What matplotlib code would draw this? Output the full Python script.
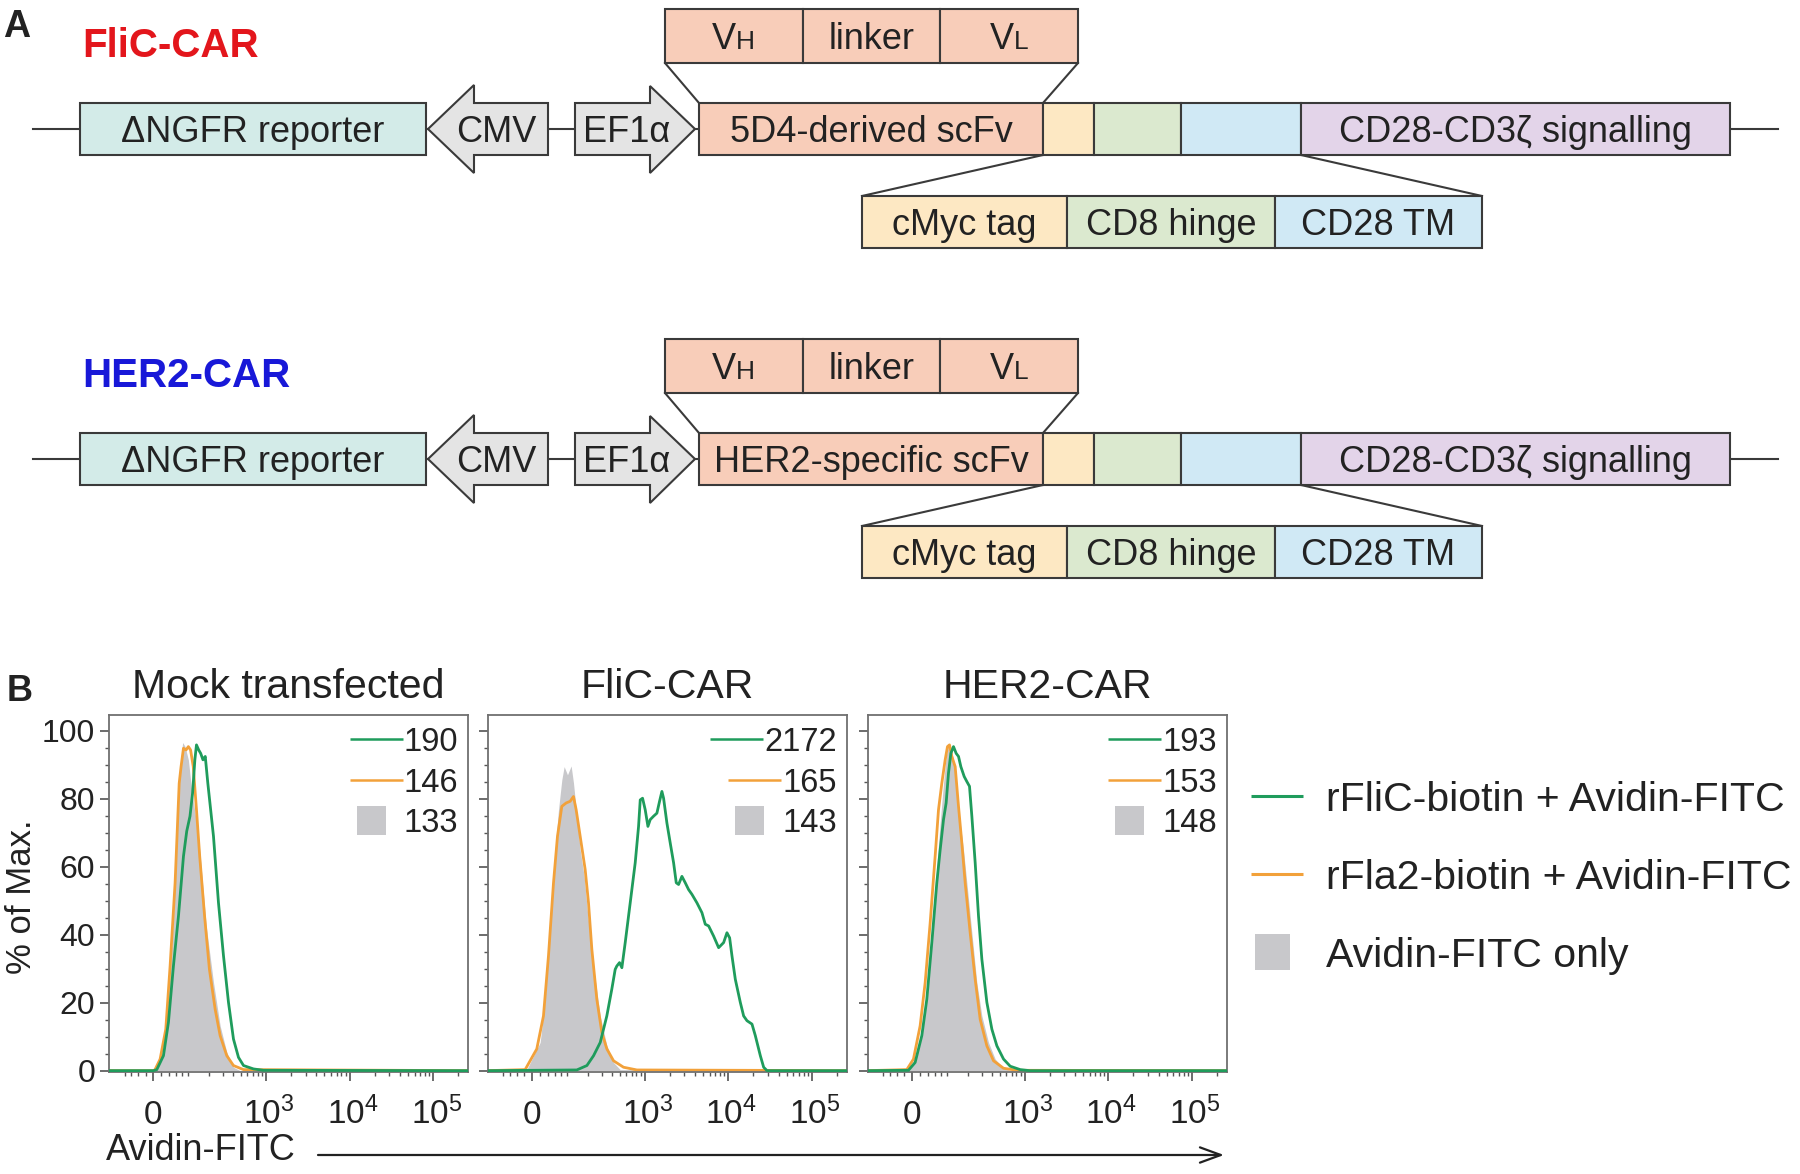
import numpy as np
import matplotlib
matplotlib.use('Agg')
import matplotlib.pyplot as plt
from matplotlib.patches import Rectangle, Polygon
from matplotlib.ticker import FixedLocator, NullFormatter

plt.rcParams['font.family'] = ['Liberation Sans', 'DejaVu Sans']
plt.rcParams['mathtext.fontset'] = 'custom'
plt.rcParams['mathtext.rm'] = 'Liberation Sans'
plt.rcParams['mathtext.it'] = 'Liberation Sans:italic'
plt.rcParams['mathtext.bf'] = 'Liberation Sans:bold'

# ------------------------------------------------------------------ data
panel_titles = ['Mock transfected', 'FliC-CAR', 'HER2-CAR']
legend_labels = ['rFliC-biotin + Avidin-FITC', 'rFla2-biotin + Avidin-FITC', 'Avidin-FITC only']
mfi_green = ['190', '2172', '193']
mfi_orange = ['146', '165', '153']
mfi_gray = ['133', '143', '148']
x_tick_values = [0, 1e3, 1e4, 1e5]
x_tick_labels = ['0', r'$10^3$', r'$10^4$', r'$10^5$']
x_minor_values = [-80, -60, -40, -20, 20, 40, 60, 80,
                  100, 200, 300, 400, 500, 600, 700, 800, 900,
                  2000, 3000, 4000, 5000, 6000, 7000, 8000, 9000,
                  20000, 30000, 40000, 50000, 60000, 70000, 80000, 90000, 200000]
y_tick_values = [0, 20, 40, 60, 80, 100]
x_limits = (-141, 2.6e5)
y_limits = (-0.4, 104.7)

# Mock transfected
mock_gray_x = [-141, 0, 8.4, 25.4, 38.6, 52.6, 62.5, 72.9, 81.3, 89.6, 101.5, 114.2, 134.7, 149.7, 183.6, 228.5, 277.7, 336, 406, 490, 260000]
mock_gray_y = [0, 0, 0.5, 6.4, 21, 45.5, 70, 89.5, 96.6, 95.4, 91.5, 82.7, 72.9, 65, 42.6, 26, 13.2, 5.4, 1, 0, 0]
mock_orange_x = [-141, 0, 4, 16.8, 31.5, 43.2, 57.5, 70, 76, 84, 93, 101.5, 110, 120.8, 134.7, 149.7, 174.6, 202.5, 240, 277.7, 336, 406, 538, 260000]
mock_orange_y = [0, 0, 0.3, 3.4, 12.2, 30.8, 55.3, 84.6, 89.5, 94.9, 94.4, 95.4, 94.4, 89.5, 76.8, 63.1, 45.5, 29.8, 18.1, 10.3, 4.4, 1.5, 0.3, 0]
mock_green_x = [-141, 0, 8.4, 25.4, 38.6, 52.6, 67.7, 84, 95.5, 107.7, 118, 127.6, 134.7, 145, 154.5, 166, 178.3, 192.9, 228.5, 264.6, 305.8, 352.6, 406, 467.6, 538, 711, 937, 260000]
mock_green_y = [0, 0, 0.3, 4.4, 14.2, 30.8, 45.5, 63.1, 70.5, 74.9, 81.7, 91.5, 95.9, 94.4, 93.4, 91.5, 92.5, 84.6, 69, 49.4, 33.8, 20.1, 9.3, 3.9, 1.5, 0.5, 0.1, 0]

# FliC-CAR
flic_gray_x = [-141, -13.4, 20.2, 33.3, 47, 61.5, 71.9, 82.8, 90.9, 103.1, 117.5, 127.3, 142.3, 158.4, 179.5, 201, 237, 288.7, 349.4, 421.9, 508.7, 260000]
flic_gray_y = [0, 0.3, 8.3, 21, 42.6, 65, 76.8, 85.6, 89.5, 87.1, 89.7, 84.7, 75, 65, 57.2, 45.5, 30.8, 16.1, 7.3, 2.4, 0.3, 0]
flic_orange_x = [-141, -17.6, 11.7, 28.8, 42.3, 56.6, 68.7, 82.8, 98.1, 113.5, 127.3, 139.2, 158.4, 185.1, 204.8, 226.3, 262, 302.9, 349.4, 421.9, 558.3, 809, 260000]
flic_orange_y = [0, 0.3, 6.4, 16.1, 33.8, 55.3, 69, 77.8, 78.8, 79.3, 80.7, 76.8, 69, 59.2, 49.4, 35.7, 21, 11.2, 6.4, 2.9, 1, 0.2, 0]
flic_green_x = [-141, 142, 195, 238, 289, 349, 402, 442, 463, 499, 533, 585, 672, 772, 847, 887, 946, 1018, 1097, 1169, 1281,
                1405, 1512, 1613, 1689, 1851, 2029, 2225, 2394, 2553, 2798, 3068, 3362, 3686, 4229, 4853,
                5319, 5831, 6693, 7680, 8813, 9658, 10394, 11084, 12150, 13940, 15280, 16750, 19220, 21070, 24180,
                26500, 29050, 260000]
flic_green_y = [0, 0.2, 1.5, 4.4, 8.3, 16.1, 24, 29.8, 30.8, 31.8, 30.3, 37.7, 49.4, 61.2, 71.9, 79.7, 80.2, 76.8, 71.9, 73.9, 74.9,
                75.8, 79.3, 82.2, 80.2, 72.9, 67, 61.2, 55.3, 54.8, 57.2, 55.3, 53.3, 51.9, 49.4, 46.5,
                43.1, 42.6, 39.6, 36.2, 37.7, 40.6, 39.1, 33.8, 26.9, 20.1, 16.1, 14.7, 13.7, 10.3, 4.4,
                1.0, 0, 0]

# HER2-CAR
her2_gray_x = [-141, -9.2, 11.7, 28.8, 42.3, 56.6, 66.6, 77.3, 88.6, 98.1, 106.9, 116.2, 127.3, 142.3, 158.4, 175.8, 194.8, 226.3, 262, 302.9, 366, 442.2, 558.3, 672, 260000]
her2_gray_y = [0, 0.3, 4.4, 14.2, 25.9, 45.5, 60.1, 72.9, 84.6, 92.5, 95.9, 95.4, 91.5, 81.7, 72.9, 65, 55.3, 40.6, 25.9, 16.1, 8.3, 3.4, 0.7, 0.1, 0]
her2_orange_x = [-141, -13.4, 3.3, 20.2, 33.3, 47, 61.5, 71.9, 82.8, 94.5, 103.1, 110.8, 120.3, 134.7, 150.2, 166.9, 185.1, 215.3, 249.6, 288.7, 349.4, 421.9, 558.3, 809, 260000]
her2_orange_y = [0, 0.3, 3.4, 13.2, 25.9, 43.5, 63.1, 76.8, 84.6, 91.5, 95.4, 95.9, 92.5, 89.5, 77.8, 67, 55.3, 40.6, 26.9, 15.1, 7.3, 2.9, 0.7, 0.1, 0]
her2_green_x = [-141, -9.2, 7.5, 24.5, 37.7, 51.7, 66.6, 77.3, 88.6, 98.1, 106.9, 116.2, 127.3, 139.2, 150.2, 161.8, 179.5, 194.8, 211, 226.3, 249.6, 275, 302.9, 349.4, 402.6, 463.4, 558.3, 672, 887, 1150, 260000]
her2_green_y = [0, 0.1, 2.4, 10.3, 21, 37.7, 55.3, 65, 73.9, 78.8, 87.6, 93.4, 95.4, 93.4, 92.5, 89.5, 86.6, 85.1, 83.7, 74.9, 61.2, 45.5, 32.8, 20.1, 12.2, 7.3, 3.4, 1.3, 0.3, 0, 0]

panel_data = [
    (mock_gray_x, mock_gray_y, mock_orange_x, mock_orange_y, mock_green_x, mock_green_y),
    (flic_gray_x, flic_gray_y, flic_orange_x, flic_orange_y, flic_green_x, flic_green_y),
    (her2_gray_x, her2_gray_y, her2_orange_x, her2_orange_y, her2_green_x, her2_green_y),
]

# Panel A construct text
construct_names = ['FliC-CAR', 'HER2-CAR']
construct_colors = ['#e3161c', '#1818d8']
scfv_names = ['5D4-derived scFv', 'HER2-specific scFv']
reporter_label = '\u0394NGFR reporter'
signal_label = 'CD28-CD3\u03b6 signalling'
sub_top_labels = ['V', 'linker', 'V']
sub_bottom_labels = ['cMyc tag', 'CD8 hinge', 'CD28 TM']

# ------------------------------------------------------------------ style / layout
W, H = 1800, 1174
TXT = '#222222'
EDGE = '#3a3a3a'
GREEN = '#1f9c5c'
ORANGE = '#f2a13a'
GRAYF = '#c8c8cb'
C_REP = '#d3ebe8'
C_SCFV = '#f8cdb9'
C_MYC = '#fde8c3'
C_CD8 = '#dbe9cf'
C_TM = '#d0e9f5'
C_SIG = '#e3d4e9'
C_ARW = '#e4e4e4'

fig = plt.figure(figsize=(18, 11.74), dpi=100)


def px_axes(left, top, right, bottom):
    return [left / W, (H - bottom) / H, (right - left) / W, (bottom - top) / H]


def fwd(x):
    return np.arcsinh(np.asarray(x, dtype=float) / 91.0) / np.log(10)


def inv(u):
    return 91.0 * np.sinh(np.asarray(u, dtype=float) * np.log(10))


ax_lefts = [109, 487.7, 867.7]
ax_width = 359
ax_top, ax_bot = 715, 1072
axes = []
for i, (gx, gy, ox, oy, grx, gry) in enumerate(panel_data):
    ax = fig.add_axes(px_axes(ax_lefts[i], ax_top, ax_lefts[i] + ax_width, ax_bot))
    ax.set_xscale('function', functions=(fwd, inv))
    ax.set_xlim(*x_limits)
    ax.set_ylim(*y_limits)
    ax.fill_between(gx, gy, 0, color=GRAYF, lw=0, zorder=1)
    ax.plot(ox, oy, color=ORANGE, lw=2.0, zorder=2, solid_joinstyle='round')
    ax.plot(grx, gry, color=GREEN, lw=2.0, zorder=3, solid_joinstyle='round')
    ax.xaxis.set_major_locator(FixedLocator(x_tick_values))
    ax.xaxis.set_minor_locator(FixedLocator(x_minor_values))
    ax.xaxis.set_major_formatter(NullFormatter())
    ax.xaxis.set_minor_formatter(NullFormatter())
    ax.set_yticks(y_tick_values)
    ax.yaxis.set_minor_locator(FixedLocator(np.arange(0, 101, 5)))
    if i == 0:
        ax.set_yticklabels([str(v) for v in y_tick_values], fontsize=23, color=TXT)
    else:
        ax.set_yticklabels([])
    ax.tick_params(which='major', direction='out', length=6.5, width=1.1, color='#444444', pad=3.5)
    ax.tick_params(which='minor', direction='out', length=3.2, width=1.0, color='#555555')
    for s in ax.spines.values():
        s.set_color('#707070')
        s.set_linewidth(1.3)
    axes.append(ax)

# overlay in pixel coordinates (y downwards)
ov = fig.add_axes([0, 0, 1, 1], facecolor='none')
ov.set_xlim(0, W)
ov.set_ylim(H, 0)
ov.axis('off')


def em(size):
    return size * 100 / 72.0


def ctext(x, yc, s, size=26, ha='center', color=TXT, **kw):
    return ov.text(x, yc + 0.358 * em(size), s, ha=ha, va='baseline', fontsize=size,
                   color=color, zorder=6, **kw)


def box(x0, x1, y0, y1, fc):
    ov.add_patch(Rectangle((x0, y0), x1 - x0, y1 - y0, fc=fc, ec=EDGE, lw=1.5, zorder=3))


# ------------------------------------------------------------------ panel A
ov.text(3, 37, 'A', fontsize=27, fontweight='bold', color=TXT, ha='left', va='baseline')

row_offsets = [0, 330]
main_edges = [699, 1043, 1094, 1181, 1301, 1730]
main_colors = [C_SCFV, C_MYC, C_CD8, C_TM, C_SIG]
top_edges = [665, 803, 940, 1078]
bot_edges = [862, 1067, 1275, 1482]
bot_colors = [C_MYC, C_CD8, C_TM]

for r, dy in enumerate(row_offsets):
    yc = 129 + dy
    y0, y1 = 103 + dy, 155 + dy
    ov.text(82, 57 + dy, construct_names[r], fontsize=29, fontweight='bold',
            color=construct_colors[r], ha='left', va='baseline')
    ov.plot([33, 1778], [yc, yc], color=EDGE, lw=1.5, zorder=1)
    # reporter
    box(80, 426, y0, y1, C_REP)
    ctext(253, yc, reporter_label)
    # CMV arrow (left)
    ov.add_patch(Polygon([(428, yc), (474, 85 + dy), (474, y0), (548, y0), (548, y1),
                          (474, y1), (474, 173 + dy)], closed=True, fc=C_ARW, ec=EDGE,
                         lw=1.5, zorder=3))
    ctext(496, yc, 'CMV')
    # EF1a arrow (right)
    ov.add_patch(Polygon([(575, y0), (650, y0), (650, 86 + dy), (695, yc), (650, 173 + dy),
                          (650, y1), (575, y1)], closed=True, fc=C_ARW, ec=EDGE, lw=1.5,
                         zorder=3))
    ctext(627, yc, 'EF1\u03b1')
    # CAR segments
    for k in range(5):
        box(main_edges[k], main_edges[k + 1], y0, y1, main_colors[k])
    ctext((main_edges[0] + main_edges[1]) / 2, yc, scfv_names[r])
    ctext((main_edges[4] + main_edges[5]) / 2, yc, signal_label)
    # top expansion (VH | linker | VL)
    ty0, ty1 = 9 + dy, 63 + dy
    tyc = (ty0 + ty1) / 2
    for k in range(3):
        box(top_edges[k], top_edges[k + 1], ty0, ty1, C_SCFV)
    ov.plot([top_edges[0], main_edges[0]], [ty1, y0], color=EDGE, lw=1.5, zorder=2)
    ov.plot([top_edges[3], main_edges[1]], [ty1, y0], color=EDGE, lw=1.5, zorder=2)
    c0 = (top_edges[0] + top_edges[1]) / 2
    c1 = (top_edges[1] + top_edges[2]) / 2
    c2 = (top_edges[2] + top_edges[3]) / 2
    base = tyc + 0.358 * em(26)
    ov.text(c0 + 2, base, sub_top_labels[0], fontsize=26, color=TXT, ha='right', va='baseline', zorder=6)
    ov.text(c0 + 2, base, 'H', fontsize=19, color=TXT, ha='left', va='baseline', zorder=6)
    ctext(c1, tyc, sub_top_labels[1])
    ov.text(c2 + 5, base, sub_top_labels[2], fontsize=26, color=TXT, ha='right', va='baseline', zorder=6)
    ov.text(c2 + 5, base, 'L', fontsize=19, color=TXT, ha='left', va='baseline', zorder=6)
    # bottom expansion
    by0, by1 = 196 + dy, 248 + dy
    byc = (by0 + by1) / 2
    for k in range(3):
        box(bot_edges[k], bot_edges[k + 1], by0, by1, bot_colors[k])
        ctext((bot_edges[k] + bot_edges[k + 1]) / 2, byc, sub_bottom_labels[k])
    ov.plot([main_edges[1], bot_edges[0]], [y1, by0], color=EDGE, lw=1.5, zorder=2)
    ov.plot([main_edges[4], bot_edges[3]], [y1, by0], color=EDGE, lw=1.5, zorder=2)

# ------------------------------------------------------------------ panel B texts
ov.text(7, 701, 'B', fontsize=26, fontweight='bold', color=TXT, ha='left', va='baseline')
for i, ax in enumerate(axes):
    cx = ax_lefts[i] + ax_width / 2
    ov.text(cx, 698, panel_titles[i], fontsize=29.5, color=TXT, ha='center', va='baseline')
    for v, lab in zip(x_tick_values, x_tick_labels):
        xd = ax.transData.transform((v, 50))[0]
        ov.text(xd + (3 if v > 0 else 0), 1124, lab, fontsize=24, color=TXT, ha='center', va='baseline')

ov.text(22, 897, '% of Max.', fontsize=25, color=TXT, rotation=90, ha='center', va='center')
ov.text(106, 1160, 'Avidin-FITC', fontsize=26, color=TXT, ha='left', va='baseline')
ov.annotate('', xy=(1224, 1155), xytext=(318, 1155),
            arrowprops=dict(arrowstyle='->,head_length=1.5,head_width=0.55', lw=1.6, color=TXT,
                            shrinkA=0, shrinkB=0))

# per-panel MFI legends
row_y = [739, 780, 820]
num_texts = []
for i, ax in enumerate(axes):
    xr = ax_lefts[i] + ax_width - 10
    for j, lab in enumerate([mfi_green[i], mfi_orange[i], mfi_gray[i]]):
        t = ctext(xr, row_y[j], lab, size=23.5, ha='right')
        num_texts.append((t, j))

fig.canvas.draw()
for t, j in num_texts:
    bb = t.get_window_extent()
    x0 = bb.x0
    yc = row_y[j]
    if j == 0:
        ov.plot([x0 - 54, x0 - 1], [yc, yc], color=GREEN, lw=1.8, solid_capstyle='butt')
    elif j == 1:
        ov.plot([x0 - 54, x0 - 1], [yc, yc], color=ORANGE, lw=1.8, solid_capstyle='butt')
    else:
        ov.add_patch(Rectangle((x0 - 47, yc - 14.5), 29, 29, fc=GRAYF, ec='none'))

# main legend
leg_y = [796, 874, 952]
ov.plot([1251, 1303], [leg_y[0], leg_y[0]], color=GREEN, lw=2.2, solid_capstyle='butt')
ov.plot([1251, 1303], [leg_y[1], leg_y[1]], color=ORANGE, lw=2.2, solid_capstyle='butt')
ov.add_patch(Rectangle((1255, leg_y[2] - 18), 35, 36, fc=GRAYF, ec='none'))
for j, lab in enumerate(legend_labels):
    ctext(1326, leg_y[j], lab, size=29.5, ha='left')

fig.savefig('out.png', dpi=100, facecolor='white')
